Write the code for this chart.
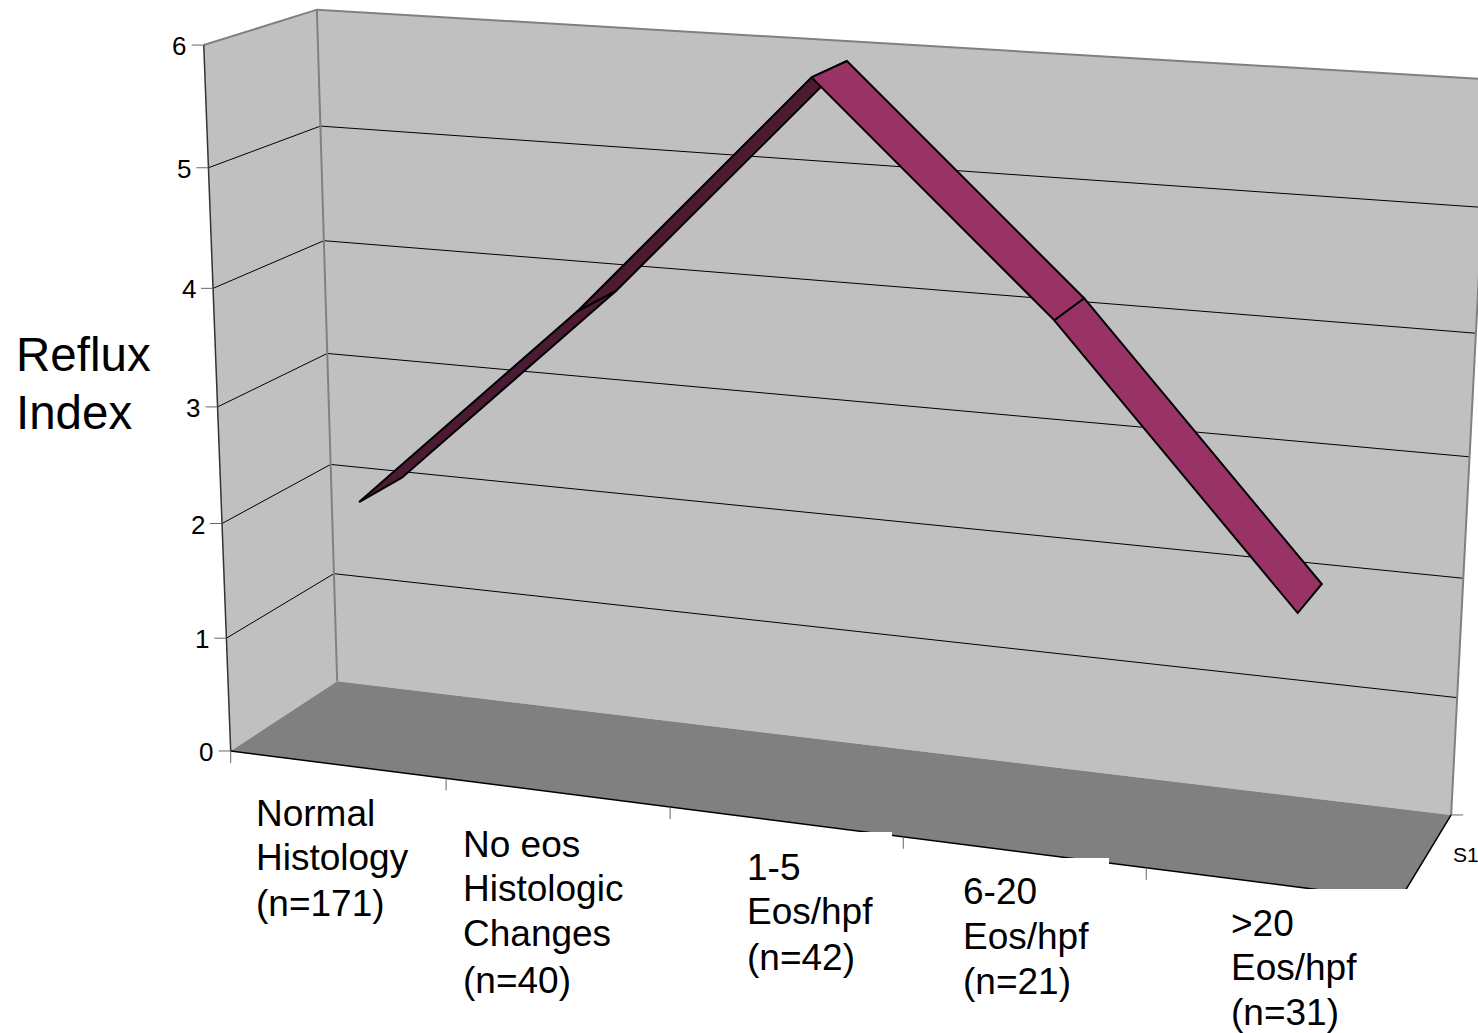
import numpy as np, plotly.graph_objects as go

WIDTH, HEIGHT = 1478, 1033

# Chart data
categories = [
    ["Normal", "Histology", "(n=171)"],
    ["No eos", "Histologic", "Changes", "(n=40)"],
    ["1-5", "Eos/hpf", "(n=42)"],
    ["6-20", "Eos/hpf", "(n=21)"],
    [">20", "Eos/hpf", "(n=31)"],
]
reflux_index = [2.14, 3.93, 5.95, 4.18, 2.03]
value_ticks = [0, 1, 2, 3, 4, 5, 6]
series_name = "S1"
axis_title = ["Reflux", "Index"]

# 3D box of the chart: categories 0..5, depth 0..1, values 0..6
RIBBON_DEPTH = (0.27, 0.68)
N = len(categories)
ZMAX = value_ticks[-1]
# Oblique projection of the 3D box onto the page (homogeneous, page pixels)
PROJ = np.array([[206.78, 124.58, -6.16, 230.7],
                 [12.47, -33.17, -118.02, 750.98],
                 [-0.01928, 0.0537, -0.00819, 1.0]])

def pr(x, y, z):
    h = PROJ @ np.array([x, y, z, 1.0])
    return h[0] / h[2], h[1] / h[2]

fig = go.Figure()

def poly(corners, fill, line=None, lw=0):
    xs, ys = zip(*[pr(*c) for c in corners])
    fig.add_trace(go.Scatter(x=list(xs) + [xs[0]], y=list(ys) + [ys[0]], mode="lines", fill="toself",
                             fillcolor=fill, line=dict(color=line or fill, width=lw),
                             hoverinfo="skip", showlegend=False))

def path(corners, color, lw, dx=0, dy=0):
    pts = [pr(*c) for c in corners]
    xs = [p[0] for p in pts]
    ys = [p[1] for p in pts]
    if dx or dy:
        xs.append(xs[-1] + dx)
        ys.append(ys[-1] + dy)
    fig.add_trace(go.Scatter(x=xs, y=ys, mode="lines", line=dict(color=color, width=lw),
                             hoverinfo="skip", showlegend=False))

# walls and floor
poly([(0, 0, 0), (0, 1, 0), (0, 1, ZMAX), (0, 0, ZMAX)], "#C0C0C0")
poly([(0, 1, 0), (N, 1, 0), (N, 1, ZMAX), (0, 1, ZMAX)], "#C0C0C0")
poly([(0, 0, 0), (0, 1, 0), (N, 1, 0), (N, 0, 0)], "#808080")
# gridlines
for z in value_ticks[1:-1]:
    path([(0, 0, z), (0, 1, z), (N, 1, z)], "black", 1)
# wall edges
path([(0, 1, 0), (0, 1, ZMAX)], "#808080", 2)
path([(N, 1, 0), (N, 1, ZMAX)], "#808080", 2)
path([(0, 0, ZMAX), (0, 1, ZMAX), (N, 1, ZMAX)], "#808080", 2)
path([(0, 0, 0), (0, 0, ZMAX)], "#333333", 1.5)
path([(0, 0, 0), (N, 0, 0), (N, 1, 0)], "black", 1.5)
# ticks
for z in value_ticks:
    path([(0, 0, z)], "#666666", 1, dx=-12)
for x in range(N + 1):
    path([(x, 0, 0)], "#666666", 1, dy=12)
path([(N, 1, 0)], "#666666", 1, dx=12)
# ribbon
for i in [0, 1, 3, 2]:
    v0, v1 = reflux_index[i], reflux_index[i + 1]
    poly([(i + .5, RIBBON_DEPTH[0], v0), (i + .5, RIBBON_DEPTH[1], v0),
          (i + 1.5, RIBBON_DEPTH[1], v1), (i + 1.5, RIBBON_DEPTH[0], v1)],
         "#4D1A33" if v1 > v0 else "#993366", "black", 2)

ann = []
def text(x, y, s, size, anchor="left"):
    ann.append(dict(x=x, y=y, xref="x", yref="y", text=s, showarrow=False, xanchor=anchor, yanchor="middle",
                    borderpad=0, font=dict(family="Liberation Sans", size=size, color="black")))

for z in value_ticks:
    px, py = pr(0, 0, z)
    text(px - 16.5, py + 1, str(z), 26, "right")
label_x = [255, 462, 746, 962, 1230]
label_y = [[813, 857, 903], [844, 888, 933, 980], [867, 911, 957], [891, 936, 981], [923, 967, 1012]]
for lines, lx, ly in zip(categories, label_x, label_y):
    for s, y in zip(lines, ly):
        text(lx, y, s, 37)
for s, y in zip(axis_title, [354, 412]):
    text(15, y, s, 47.5)
text(1452, 854, series_name, 21)

# white backgrounds of the category text boxes, which hide part of the floor
boxes = [(735, 892, 832, 1000), (950, 1109, 858, 1020), (1220, 1420, 889, 1033)]
shapes = [dict(type="rect", xref="x", yref="y", x0=a, x1=b, y0=c, y1=d, fillcolor="white",
               line=dict(width=0), layer="above") for a, b, c, d in boxes]

fig.update_layout(width=WIDTH, height=HEIGHT, margin=dict(l=0, r=0, t=0, b=0), paper_bgcolor="white",
                  plot_bgcolor="white", showlegend=False,
                  xaxis=dict(range=[0, WIDTH], visible=False),
                  yaxis=dict(range=[HEIGHT, 0], visible=False),
                  annotations=ann, shapes=shapes)
fig.write_html("out.html", config=dict(displayModeBar=False),
               post_script="document.body.style.margin='0';document.documentElement.style.overflow='hidden';")
